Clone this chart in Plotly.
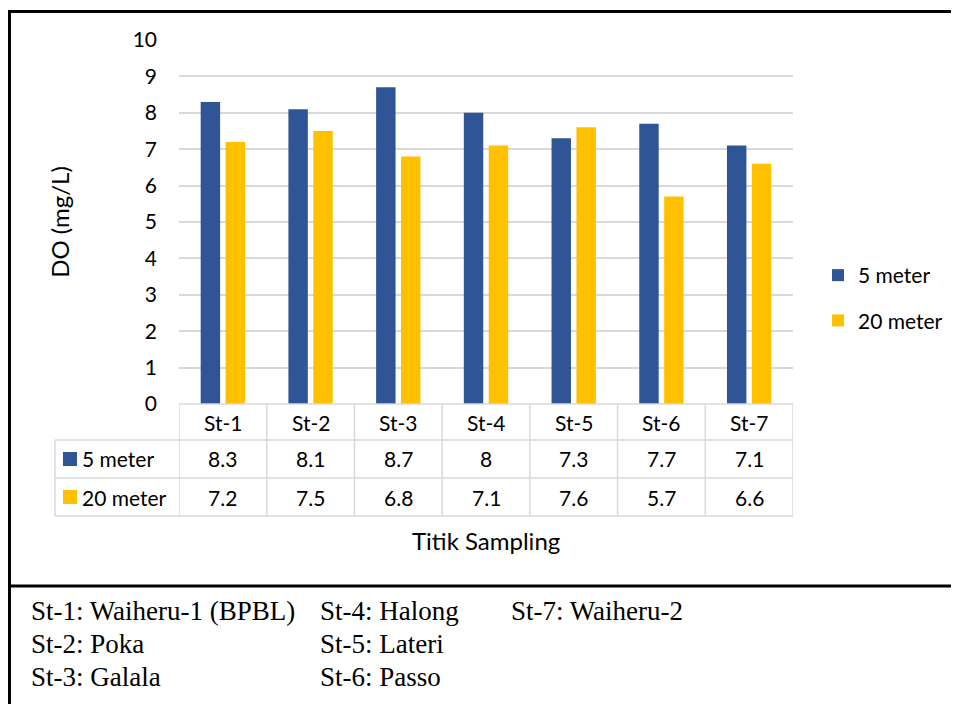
import plotly.graph_objects as go

# ---- data ----
stations = ["St-1", "St-2", "St-3", "St-4", "St-5", "St-6", "St-7"]
station_names = ["Waiheru-1 (BPBL)", "Poka", "Galala", "Halong", "Lateri", "Passo", "Waiheru-2"]
series_names = ["5 meter", "20 meter"]
do_5m = [8.3, 8.1, 8.7, 8.0, 7.3, 7.7, 7.1]
do_20m = [7.2, 7.5, 6.8, 7.1, 7.6, 5.7, 6.6]
y_ticks = [0, 1, 2, 3, 4, 5, 6, 7, 8, 9, 10]
y_title = "DO (mg/L)"
x_title = "Titik Sampling"

series_values = [do_5m, do_20m]
series_colors = ["#2F5597", "#FFC000"]

OFF = 8  # page body margin
W, H = 959 - OFF, 704 - OFF
PL, PR, PT, PB = 179, 793, 40, 404  # plot area in target px


def px_x(px):
    return (px - PL) / (PR - PL)


def px_y(py):
    return (PB - py) / (PB - PT)


FONT = "Lato"
GRID = "#d9d9d9"
FS = 21

fig = go.Figure()
for i, (name, vals, col) in enumerate(zip(series_names, series_values, series_colors)):
    fig.add_trace(go.Bar(
        x=stations, y=vals, name=name, marker=dict(color=col, line=dict(width=0)),
        legendgroup="g%d" % i,
    ))

shapes = []
annotations = []

# ---- data table ----
row_tops = [404, 440, 478, 516]
shapes.append(dict(type="line", xref="paper", yref="paper", x0=0, x1=1,
                   y0=px_y(404), y1=px_y(404), line=dict(color=GRID, width=1.5)))
for ry in row_tops[1:]:
    shapes.append(dict(type="line", xref="paper", yref="paper", x0=px_x(55), x1=1,
                       y0=px_y(ry), y1=px_y(ry), line=dict(color=GRID, width=1.5)))
for k in range(len(stations) + 1):
    shapes.append(dict(type="line", xref="x", yref="paper", x0=k - 0.5, x1=k - 0.5,
                       y0=px_y(404), y1=px_y(516), line=dict(color=GRID, width=1.5)))
shapes.append(dict(type="line", xref="paper", yref="paper", x0=px_x(55), x1=px_x(55),
                   y0=px_y(440), y1=px_y(516), line=dict(color=GRID, width=1.5)))

for k, s in enumerate(stations):
    annotations.append(dict(x=s, xref="x", y=px_y(422), yref="paper", text=s, showarrow=False,
                            xanchor="center", yanchor="middle",
                            font=dict(family=FONT, size=FS, color="black")))
row_centers = [459, 497]
for r, (name, vals, col) in enumerate(zip(series_names, series_values, series_colors)):
    yc = row_centers[r]
    for s, v in zip(stations, vals):
        annotations.append(dict(x=s, xref="x", y=px_y(yc), yref="paper", text=f"{v:g}",
                                showarrow=False, xanchor="center", yanchor="middle",
                                font=dict(family=FONT, size=FS, color="black")))
    shapes.append(dict(type="rect", xref="paper", yref="paper", x0=px_x(63), x1=px_x(77),
                       y0=px_y(yc - 7), y1=px_y(yc + 7), fillcolor=col, line=dict(width=0)))
    annotations.append(dict(x=px_x(80), xref="paper", y=px_y(yc), yref="paper", text=name,
                            showarrow=False, xanchor="left", yanchor="middle",
                            font=dict(family=FONT, size=FS, color="black")))

annotations.append(dict(x=0.5, xref="paper", y=px_y(540), yref="paper", text=x_title,
                        showarrow=False, xanchor="center", yanchor="middle",
                        font=dict(family=FONT, size=24, color="black")))

# ---- frame ----
shapes.append(dict(type="rect", xref="paper", yref="paper",
                   x0=px_x(9.5), x1=px_x(975), y0=px_y(11.5), y1=px_y(720),
                   line=dict(color="black", width=3)))
shapes.append(dict(type="line", xref="paper", yref="paper",
                   x0=px_x(9.5), x1=px_x(975), y0=px_y(586), y1=px_y(586),
                   line=dict(color="black", width=3)))

# ---- station key text ----
col_x = [29, 318, 509]
row_y = [611, 644, 677]
for idx, (code, nm) in enumerate(zip(stations, station_names)):
    c, r = divmod(idx, 3)
    annotations.append(dict(x=px_x(col_x[c]), xref="paper", y=px_y(row_y[r]), yref="paper",
                            text=f"{code}: {nm}", showarrow=False, xanchor="left",
                            yanchor="middle",
                            font=dict(family="Liberation Serif", size=27, color="black")))

fig.update_layout(
    width=W, height=H,
    margin=dict(l=PL - OFF, r=W - (PR - OFF), t=PT - OFF, b=H - (PB - OFF), autoexpand=False),
    paper_bgcolor="white", plot_bgcolor="white",
    barmode="group", bargap=0.432, bargroupgap=0.22,
    font=dict(family=FONT, size=FS, color="black"),
    xaxis=dict(showticklabels=False, showgrid=False, zeroline=False, showline=False,
               range=[-0.5, len(stations) - 0.5]),
    yaxis=dict(range=[0, 10], tickvals=y_ticks, showgrid=True, gridcolor=GRID, gridwidth=1.5,
               zeroline=False, showline=False, ticks="", ticklabelstandoff=21,
               tickfont=dict(family=FONT, size=FS, color="black"),
               title=dict(text=y_title, standoff=56,
                          font=dict(family=FONT, size=24, color="black"))),
    legend=dict(x=px_x(818), y=px_y(255), xanchor="left", yanchor="top",
                font=dict(family=FONT, size=FS, color="black"),
                tracegroupgap=15, bgcolor="rgba(0,0,0,0)"),
    shapes=shapes, annotations=annotations,
)

fig.write_html("out.html")
